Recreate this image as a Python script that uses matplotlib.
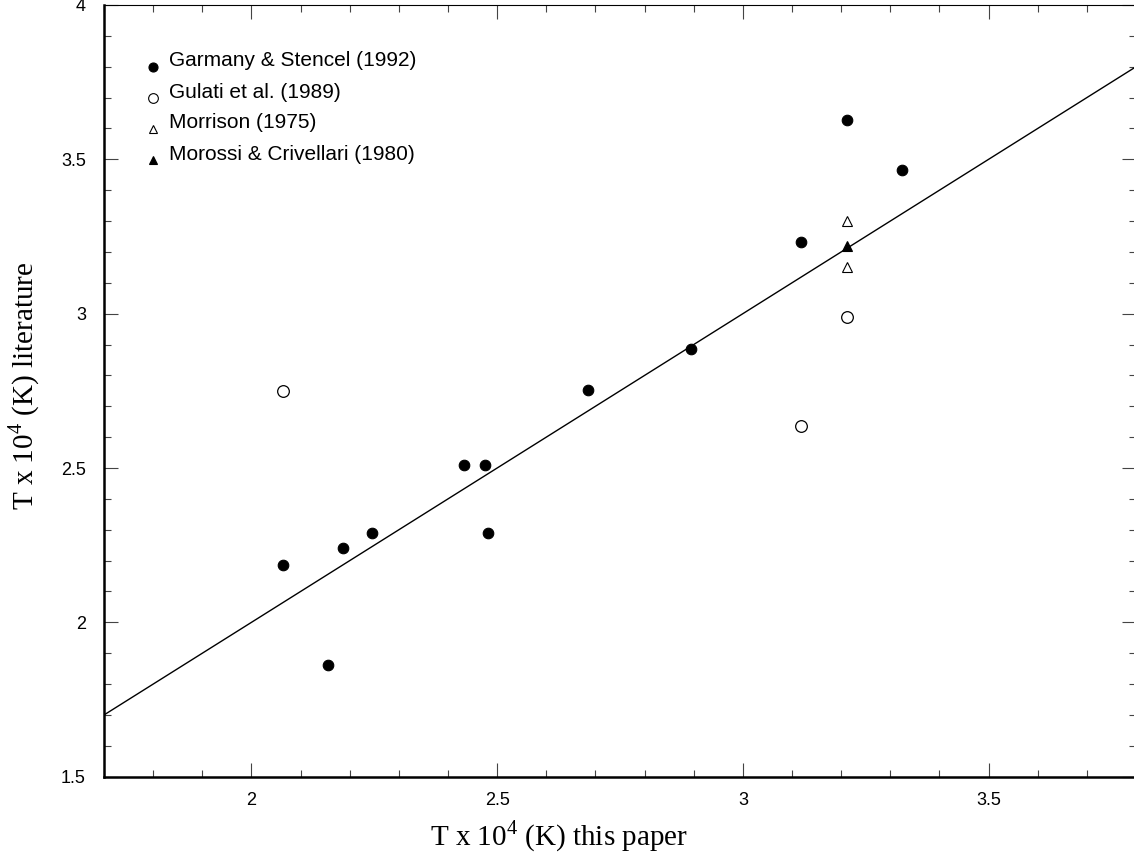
import matplotlib
matplotlib.use('Agg')
import matplotlib.pyplot as plt
from matplotlib.ticker import MultipleLocator

# ── Data (T x 10^4 K) ─────────────────────────────────────────────────────────
garmany_x = [2.064, 2.155, 2.186, 2.245, 2.432, 2.476, 2.481, 2.684, 2.894, 3.118, 3.211, 3.323]
garmany_y = [2.186, 1.862, 2.241, 2.290, 2.510, 2.510, 2.290, 2.753, 2.885, 3.233, 3.627, 3.464]

gulati_x = [2.064, 3.118, 3.211]
gulati_y = [2.750, 2.636, 2.988]

morrison_x = [3.211, 3.211]
morrison_y = [3.301, 3.152]

morossi_x = [3.211]
morossi_y = [3.220]

labels = ['Garmany & Stencel (1992)', 'Gulati et al. (1989)',
          'Morrison (1975)', 'Morossi & Crivellari (1980)']

one_to_one = [1.7, 3.8]

plt.rcParams['mathtext.fontset'] = 'custom'
plt.rcParams['mathtext.rm'] = 'Liberation Serif'

fig = plt.figure(figsize=(11.34, 8.56), dpi=100)
ax = fig.add_axes([104 / 1134, 79.3 / 856, 1032 / 1134, 771.7 / 856])

# 1:1 line
ax.plot(one_to_one, one_to_one, color='black', lw=1.0, zorder=2)

styles = [
    dict(marker='o', ms=7.6, mfc='black', mec='black', mew=0.8),
    dict(marker='o', ms=8.4, mfc='white', mec='black', mew=0.9),
    dict(marker='^', ms=7.0, mfc='white', mec='black', mew=0.8),
    dict(marker='^', ms=7.0, mfc='black', mec='black', mew=0.8),
]
series = [(garmany_x, garmany_y), (gulati_x, gulati_y),
          (morrison_x, morrison_y), (morossi_x, morossi_y)]

for (xs, ys), st in zip(series, styles):
    ax.plot(xs, ys, ls='none', zorder=3, **st)

# hand-drawn legend (marker sits a bit below text centre)
leg_styles = [
    dict(marker='o', ms=6.5, mfc='black', mec='black', mew=0.8),
    dict(marker='o', ms=7.0, mfc='white', mec='black', mew=0.8),
    dict(marker='^', ms=5.5, mfc='white', mec='black', mew=0.8),
    dict(marker='^', ms=5.5, mfc='black', mec='black', mew=0.8),
]
def px_to_ax(py):
    return 1 - (py - 5) / 771.7

for i, (lab, st) in enumerate(zip(labels, leg_styles)):
    ty = 61 + i * 31
    ax.plot([(153 - 104) / 1032], [px_to_ax(ty + 6)], transform=ax.transAxes,
            ls='none', clip_on=False, **st)
    ax.text((169 - 104) / 1032, px_to_ax(ty), lab, transform=ax.transAxes,
            ha='left', va='center', fontsize=15, family='Liberation Sans')

ax.set_xlim(1.7, 3.8)
ax.set_ylim(1.5, 4.0)
ax.xaxis.set_minor_locator(MultipleLocator(0.1))
ax.yaxis.set_minor_locator(MultipleLocator(0.1))
ax.set_xticks([2, 2.5, 3, 3.5])
ax.set_xticklabels(['2', '2.5', '3', '3.5'])
ax.set_yticks([1.5, 2, 2.5, 3, 3.5, 4])
ax.set_yticklabels(['1.5', '2', '2.5', '3', '3.5', '4'])

ax.tick_params(which='both', direction='in', top=True, right=True,
               width=0.8, color='#444444', labelsize=13)
ax.tick_params(which='major', length=10)
ax.tick_params(which='minor', length=5)
ax.tick_params(axis='x', pad=11)
ax.tick_params(axis='y', pad=13)
for lbl in ax.get_xticklabels() + ax.get_yticklabels():
    lbl.set_family('Liberation Sans')

ax.spines['left'].set_linewidth(1.8)
ax.spines['bottom'].set_linewidth(1.8)
ax.spines['top'].set_linewidth(0.8)
ax.spines['right'].set_linewidth(0.8)

ax.set_xlabel(r'T x 10$^{\mathrm{4}}$ (K) this paper', family='Liberation Serif',
              fontsize=21, va='center')
ax.set_ylabel(r'T x 10$^{\mathrm{4}}$ (K) literature', family='Liberation Serif',
              fontsize=21, va='center')
ax.xaxis.set_label_coords((559 - 104) / 1032, px_to_ax(836))
ax.yaxis.set_label_coords((24 - 104) / 1032, px_to_ax(386))

fig.savefig('out.png', dpi=100)
